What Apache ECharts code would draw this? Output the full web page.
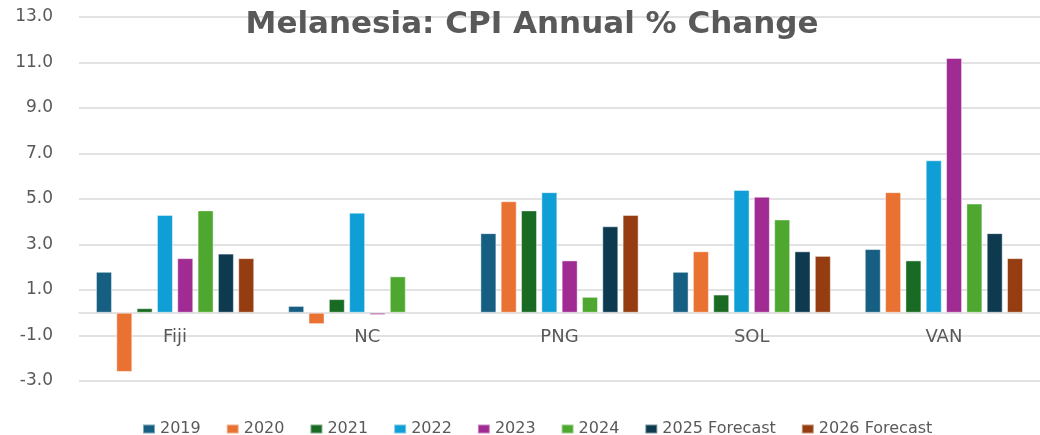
<!DOCTYPE html>
<html>
<head>
<meta charset="utf-8">
<script src="https://cdn.jsdelivr.net/npm/echarts@6/dist/echarts.min.js"></script>
<style>
  html, body { margin: 0; padding: 0; background: #fff; }
  #main { width: 1040px; height: 435px; }
</style>
</head>
<body>
<div id="main"></div>
<script>
// categories and series values (CPI annual % change)
const countries = ['Fiji', 'NC', 'PNG', 'SOL', 'VAN'];
const seriesNames = ['2019', '2020', '2021', '2022', '2023', '2024', '2025 Forecast', '2026 Forecast'];
const colors = ['#175f82', '#e97132', '#196b24', '#0f9ed5', '#a02b93', '#4ea72e', '#0e3a50', '#953d10'];

const v2019 = [1.8, 0.3, 3.5, 1.8, 2.8];
const v2020 = [-2.6, -0.5, 4.9, 2.7, 5.3];
const v2021 = [0.2, 0.6, 4.5, 0.8, 2.3];
const v2022 = [4.3, 4.4, 5.3, 5.4, 6.7];
const v2023 = [2.4, -0.1, 2.3, 5.1, 11.2];
const v2024 = [4.5, 1.6, 0.7, 4.1, 4.8];
const v2025f = [2.6, null, 3.8, 2.7, 3.5];
const v2026f = [2.4, null, 4.3, 2.5, 2.4];

const allValues = [v2019, v2020, v2021, v2022, v2023, v2024, v2025f, v2026f];

const yMin = -3, yMax = 13, yStep = 2;

const chart = echarts.init(document.getElementById('main'), null, { renderer: 'canvas' });

const font = 'DejaVu Sans';
const textColor = '#595959';
const gridColor = '#d9d9d9';

let series = seriesNames.map(function (name, i) {
  return {
    name: name,
    type: 'bar',
    data: allValues[i],
    barWidth: 16,
    barGap: '27%',
    itemStyle: {
      color: colors[i],
      borderColor: 'rgba(255,255,255,0.45)',
      borderWidth: 1
    }
  };
});

const option = {
  animation: false,
  backgroundColor: '#fff',
  title: {
    text: 'Melanesia: CPI Annual % Change',
    left: 527,
    textAlign: 'center',
    top: 4,
    textStyle: { fontFamily: font, fontWeight: 'bold', fontSize: 31, color: textColor }
  },
  legend: {
    data: seriesNames,
    left: 137,
    top: 416,
    itemWidth: 12,
    itemHeight: 9,
    itemGap: 25,
    icon: 'rect',
    textStyle: { fontFamily: font, fontSize: 16, color: textColor }
  },
  grid: { left: 79, right: -7, top: 17, bottom: 54, containLabel: false },
  xAxis: {
    type: 'category',
    data: countries,
    axisLine: { onZero: true, lineStyle: { color: gridColor, width: 1.5 } },
    axisTick: { show: false },
    // labels sit just under the zero line, like the original
    axisLabel: { fontFamily: font, fontSize: 18, color: textColor, margin: -53 }
  },
  yAxis: {
    type: 'value',
    min: yMin,
    max: yMax,
    interval: yStep,
    axisLine: { show: false },
    axisTick: { show: false },
    splitLine: { lineStyle: { color: gridColor, width: 1.5 } },
    axisLabel: {
      fontFamily: font, fontSize: 17, color: textColor, margin: 26,
      formatter: function (v) { return v.toFixed(1); }
    }
  },
  series: series
};

chart.setOption(option);
</script>
</body>
</html>
